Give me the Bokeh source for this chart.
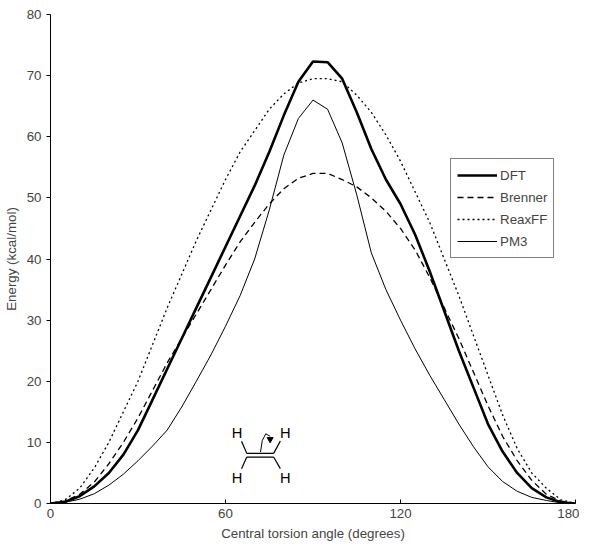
from bokeh.plotting import figure
from bokeh.models import Legend, LegendItem, FixedTicker
from bokeh.core.properties import value
from bokeh.embed import file_html
from bokeh.resources import INLINE

angle = list(range(0, 181, 5))
dft = [0, 0.3, 1.2, 2.8, 5, 8, 12, 17, 22, 27, 32, 37, 42, 47, 52, 57.5, 63.5, 69, 72.3,
       72.2, 69.5, 64, 58, 53, 49, 44, 38, 31.5, 25, 19, 13, 8.5, 5, 2.5, 1, 0.2, 0]
brenner = [0, 0.4, 1.5, 3.5, 6.5, 10, 14, 18.5, 23, 27, 31, 35, 39, 42.8, 46, 49, 51.5, 53.2, 54,
           54, 53, 51.8, 50, 47.8, 45, 41.5, 37, 32, 27, 21.5, 16, 11, 7, 3.8, 1.5, 0.4, 0]
reaxff = [0, 0.6, 2.5, 5.8, 10, 15, 20, 26, 32, 37.5, 43, 48, 53, 57.5, 61, 64.5, 67, 68.8, 69.5,
          69.5, 69, 66.8, 64, 60.3, 56, 51, 46, 40, 34, 27.5, 21, 14.5, 9, 5, 2.5, 0.6, 0]
pm3 = [0, 0.2, 0.7, 1.6, 3, 4.8, 7, 9.4, 12, 15.8, 20, 24.3, 29, 34, 40, 48, 57, 63, 66,
       64.5, 59, 50.5, 41, 35, 30, 25.3, 21, 17, 13, 9.3, 6, 3.6, 2, 1, 0.5, 0.1, 0]

font = "Liberation Sans"
p = figure(width=579, height=543, x_range=(0, 180), y_range=(0, 80),
           output_backend="svg", toolbar_location=None,
           min_border_left=50, min_border_right=4, min_border_top=14, min_border_bottom=36)
p.outline_line_color = None
p.xgrid.visible = False
p.ygrid.visible = False

l_dft = p.line(angle, dft, line_color="black", line_width=2.6)
l_bren = p.line(angle, brenner, line_color="black", line_width=1.3, line_dash="6 4")
l_reax = p.line(angle, reaxff, line_color="black", line_width=1.3, line_dash="2 3")
l_pm3 = p.line(angle, pm3, line_color="black", line_width=1)

# ethylene inset
p.text([64, 80.5, 64, 80.5], [11.5, 11.5, 4.2, 4.2], text=["H", "H", "H", "H"],
       text_font=value(font), text_font_size="11pt", text_align="center", text_baseline="middle")
p.segment([67.3, 67.3, 65.5, 65.5, 76.5, 76.5], [8.2, 7.6, 10.2, 5.7, 8.2, 7.6],
          [76.5, 76.5, 67.3, 67.3, 78.8, 78.8], [8.2, 7.6, 8.2, 7.6, 10.2, 5.7],
          line_color="black", line_width=1.2)
p.line([72, 72.6, 73.8, 75.3], [8.4, 10.3, 11.4, 11], line_color="black", line_width=1)
p.triangle([75.3], [10.5], size=6, angle=3.14, color="black")

legend = Legend(items=[LegendItem(label="DFT", renderers=[l_dft]),
                       LegendItem(label="Brenner", renderers=[l_bren]),
                       LegendItem(label="ReaxFF", renderers=[l_reax]),
                       LegendItem(label="PM3", renderers=[l_pm3])],
                location=(400, 245), border_line_color="black", border_line_width=1,
                label_text_font=font, label_text_font_size="10pt",
                glyph_width=40, spacing=2, padding=6, margin=0,
                label_standoff=3)
p.add_layout(legend, "center")

p.xaxis.ticker = FixedTicker(ticks=[0, 60, 120, 180])
p.yaxis.ticker = FixedTicker(ticks=list(range(0, 81, 10)))
for ax in (p.xaxis, p.yaxis):
    ax.minor_tick_line_color = None
    ax.major_label_text_font = font
    ax.major_label_text_font_size = "10pt"
    ax.axis_label_text_font = font
    ax.axis_label_text_font_size = "10pt"
    ax.axis_label_text_font_style = "normal"
    ax.major_tick_in = 0
    ax.major_tick_out = 4
p.xaxis.axis_label = "Central torsion angle (degrees)"
p.yaxis.axis_label = "Energy (kcal/mol)"
p.xaxis.major_tick_in = 4
p.xaxis.major_tick_out = 0

open("out.html", "w").write(file_html(p, INLINE))
